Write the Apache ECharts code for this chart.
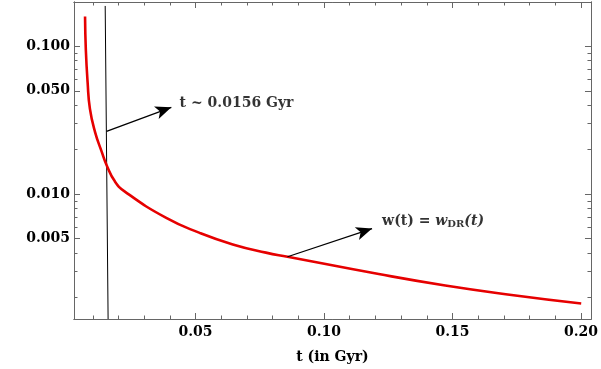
<!DOCTYPE html>
<html lang="en">
  <head>
    <meta charset="UTF-8" />
    <title>w(t)</title>
    <script src="https://cdn.jsdelivr.net/npm/echarts@6/dist/echarts.min.js"></script>
    <style>
      html, body { margin: 0; padding: 0; background: #fff; }
    </style>
  </head>
  <body>
    <div id="main" style="width: 601px;height:369px;"></div>
    <script type="text/javascript">
      // curve: t (Gyr) and w
      var tValues = [0.0070, 0.0073, 0.0080, 0.0089, 0.0109, 0.0135, 0.0154, 0.0186, 0.0225,
        0.0386, 0.0516, 0.0645, 0.0774, 0.0858, 0.1213, 0.1472, 0.1730, 0.2001]
      var wValues = [0.159, 0.095, 0.057, 0.0377, 0.0263, 0.0193, 0.0157, 0.0122, 0.0104,
        0.0069, 0.00547, 0.00457, 0.00402, 0.00377, 0.00288, 0.00241, 0.00208, 0.00182]

      // the almost vertical black line at t ~ 0.0156
      var markerT = [0.01484, 0.01597]
      var markerW = [0.1874, 0.00143]

      // ticks
      var xMajor = [0.05, 0.1, 0.15, 0.2]
      var xMinor = [0.01, 0.02, 0.03, 0.04, 0.06, 0.07, 0.08, 0.09, 0.11, 0.12, 0.13, 0.14,
        0.16, 0.17, 0.18, 0.19]
      var yMajor = [0.1, 0.05, 0.01, 0.005]
      var yMinor = [0.002, 0.003, 0.004, 0.006, 0.007, 0.008, 0.009,
        0.02, 0.03, 0.04, 0.06, 0.07, 0.08, 0.09]

      // arrows: [start, tip] and the text next to the tip
      var arrow1 = [[0.01535, 0.02655], [0.04058, 0.03867]]
      var arrow2 = [[0.0858, 0.00377], [0.1187, 0.00585]]
      var text1 = [0.0438, 0.0413]
      var text2 = [0.1226, 0.00653]

      var xMin = 0.0027, xMax = 0.2039
      var yMin = 0.00143, yMax = 0.1993

      var myChart = echarts.init(document.getElementById('main'))
      var font = 'DejaVu Serif'
      var frame = '#666'

      function xAxis (pos, ticks, len, labels) {
        return {
          type: 'value', position: pos, min: xMin, max: xMax,
          axisLine: { show: true, onZero: false, lineStyle: { color: frame, width: 1 } },
          axisTick: { show: true, inside: true, length: len, customValues: ticks, lineStyle: { color: frame } },
          axisLabel: {
            show: labels, customValues: ticks, margin: 6,
            color: '#000', fontFamily: font, fontWeight: 'bold', fontSize: 14,
            formatter: function (v) { return v.toFixed(2) }
          },
          splitLine: { show: false }
        }
      }
      function yAxis (pos, ticks, len, labels) {
        return {
          type: 'log', logBase: 10, position: pos, min: yMin, max: yMax,
          axisLine: { show: true, onZero: false, lineStyle: { color: frame, width: 1 } },
          axisTick: { show: true, inside: true, length: len, customValues: ticks, lineStyle: { color: frame } },
          axisLabel: {
            show: labels, customValues: ticks, margin: 4,
            color: '#000', fontFamily: font, fontWeight: 'bold', fontSize: 14,
            formatter: function (v) { return Number(v).toFixed(3) }
          },
          splitLine: { show: false },
          minorTick: { show: false }
        }
      }

      var xAxes = [
        xAxis('bottom', xMajor, 6, true),
        xAxis('bottom', xMinor, 3.5, false),
        xAxis('top', xMajor, 6, false),
        xAxis('top', xMinor, 3.5, false)
      ]
      xAxes[0].name = 't (in Gyr)'
      xAxes[0].nameLocation = 'middle'
      xAxes[0].nameGap = 31
      xAxes[0].nameTextStyle = { color: '#000', fontFamily: font, fontWeight: 'bold', fontSize: 14 }

      var curve = tValues.map(function (t, i) { return [t, wValues[i]] })
      var marker = markerT.map(function (t, i) { return [t, markerW[i]] })

      function arrowLine (a) {
        return [{ coord: a[0], symbol: 'none' }, { coord: a[1], symbol: 'arrow' }]
      }

      const option = {
        animation: false,
        grid: { left: 74, right: 8, top: 2, bottom: 47, containLabel: false },
        xAxis: xAxes,
        yAxis: [
          yAxis('left', yMajor, 6, true),
          yAxis('left', yMinor, 3.5, false),
          yAxis('right', yMajor, 6, false),
          yAxis('right', yMinor, 3.5, false)
        ],
        series: [
          {
            type: 'line', data: marker, showSymbol: false, silent: true,
            lineStyle: { color: '#000', width: 1 }
          },
          {
            type: 'line', data: curve, showSymbol: false, silent: true,
            smooth: 0.5,
            lineStyle: { color: '#e60000', width: 2.6 },
            markLine: {
              silent: true, animation: false,
              symbolSize: [10, 16],
              label: { show: false },
              lineStyle: { color: '#000', width: 1.3, type: 'solid' },
              emphasis: { disabled: true },
              data: [arrowLine(arrow1), arrowLine(arrow2)]
            }
          },
          {
            type: 'scatter', symbolSize: 0, silent: true,
            data: [
              { value: text1, label: { formatter: 't ~ 0.0156 Gyr' } },
              { value: text2, label: { formatter: '{a|w(t) = }{b|w}{c|DR}{b|(t)}' } }
            ],
            label: {
              show: true, position: 'right', distance: 0,
              color: '#000', fontFamily: font, fontWeight: 'bold', fontSize: 14,
              rich: {
                a: { fontFamily: font, fontWeight: 'bold', fontSize: 14, color: '#000' },
                b: { fontFamily: font, fontWeight: 'bold', fontStyle: 'italic', fontSize: 14, color: '#000' },
                c: { fontFamily: font, fontWeight: 'bold', fontSize: 10, color: '#000', verticalAlign: 'bottom', padding: [6, 0, 0, 0] }
              }
            }
          }
        ]
      }

      myChart.setOption(option)
    </script>
  </body>
</html>
